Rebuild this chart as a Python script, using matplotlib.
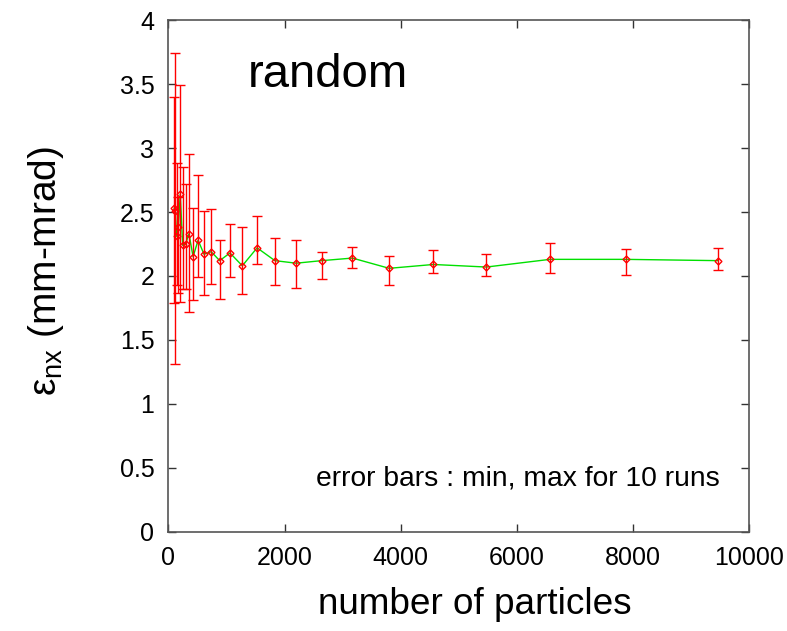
import matplotlib
matplotlib.use("Agg")
import matplotlib.pyplot as plt
import numpy as np

plt.rcParams['font.family'] = ['Liberation Sans', 'DejaVu Sans']
plt.rcParams['mathtext.fontset'] = 'custom'
plt.rcParams['mathtext.rm'] = 'Liberation Sans'
plt.rcParams['mathtext.it'] = 'Liberation Sans:italic'

# Data
n_particles = [99, 119, 143, 171, 205, 247, 296, 355, 426, 512, 614, 737, 884,
               1061, 1273, 1528, 1834, 2200, 2640, 3168, 3801, 4562, 5474,
               6569, 7873, 9455]
emit_mean = [2.53, 2.51, 2.31, 2.38, 2.64, 2.24, 2.25, 2.33, 2.15, 2.28, 2.17,
             2.19, 2.12, 2.18, 2.08, 2.22, 2.12, 2.10, 2.12, 2.14, 2.06, 2.09,
             2.07, 2.13, 2.13, 2.12]
emit_max = [3.40, 3.74, 2.88, 2.62, 3.49, 2.85, 2.72, 2.95, 2.53, 2.79, 2.51,
            2.52, 2.28, 2.41, 2.38, 2.47, 2.30, 2.28, 2.19, 2.23, 2.16, 2.20,
            2.17, 2.26, 2.21, 2.22]
emit_min = [1.79, 1.31, 1.93, 1.87, 1.80, 1.90, 1.90, 1.72, 1.81, 1.99, 1.85,
            1.94, 1.82, 1.99, 1.86, 2.09, 1.93, 1.91, 1.98, 2.06, 1.93, 2.02,
            2.00, 2.02, 2.01, 2.05]
x_ticks = [0, 2000, 4000, 6000, 8000, 10000]
y_ticks = [0, 0.5, 1, 1.5, 2, 2.5, 3, 3.5, 4]
y_tick_labels = ["0", "0.5", "1", "1.5", "2", "2.5", "3", "3.5", "4"]

x = np.array(n_particles)
y = np.array(emit_mean)
yerr = np.vstack([y - np.array(emit_min), np.array(emit_max) - y])

fig = plt.figure(figsize=(7.87, 6.31), dpi=100)
ax = fig.add_axes([0.2139, 0.1569, 0.9521 - 0.2139, 0.9683 - 0.1569])

ax.plot(x, y, color='#00e000', lw=1.0, zorder=2)
ax.errorbar(x, y, yerr=yerr, fmt='none', ecolor='#ff0000', elinewidth=1.0,
            capsize=3.5, capthick=1.0, zorder=3)
ax.plot(x, y, linestyle='none', marker='D', markersize=3.5,
        markerfacecolor='none', markeredgecolor='#ff0000', markeredgewidth=1.0,
        zorder=4)

ax.set_xlim(0, 10000)
ax.set_ylim(0, 4)
ax.set_xticks(x_ticks)
ax.set_xticklabels([str(v) for v in x_ticks])
ax.set_yticks(y_ticks)
ax.set_yticklabels(y_tick_labels)

ax.tick_params(direction='in', length=6, width=1.0, color='#333333',
               labelsize=18, top=True, right=True, pad=10)
for s in ax.spines.values():
    s.set_color('#555555')
    s.set_linewidth(1.2)

fig.text(475 / 787, 1 - 605 / 631, 'number of particles', fontsize=26.6,
         ha='center', va='center')
fig.text(46 / 787, 1 - 271 / 631, 'ε$_{\\rm nx}$ (mm-mrad)', fontsize=28,
         ha='center', va='center', rotation=90)

ax.text(0.137, 0.893, 'random', transform=ax.transAxes, fontsize=34,
        ha='left', va='center')
ax.text(0.9496, 0.105, 'error bars : min, max for 10 runs', transform=ax.transAxes,
        fontsize=20.3, ha='right', va='center')

fig.savefig('out.png', dpi=100)
